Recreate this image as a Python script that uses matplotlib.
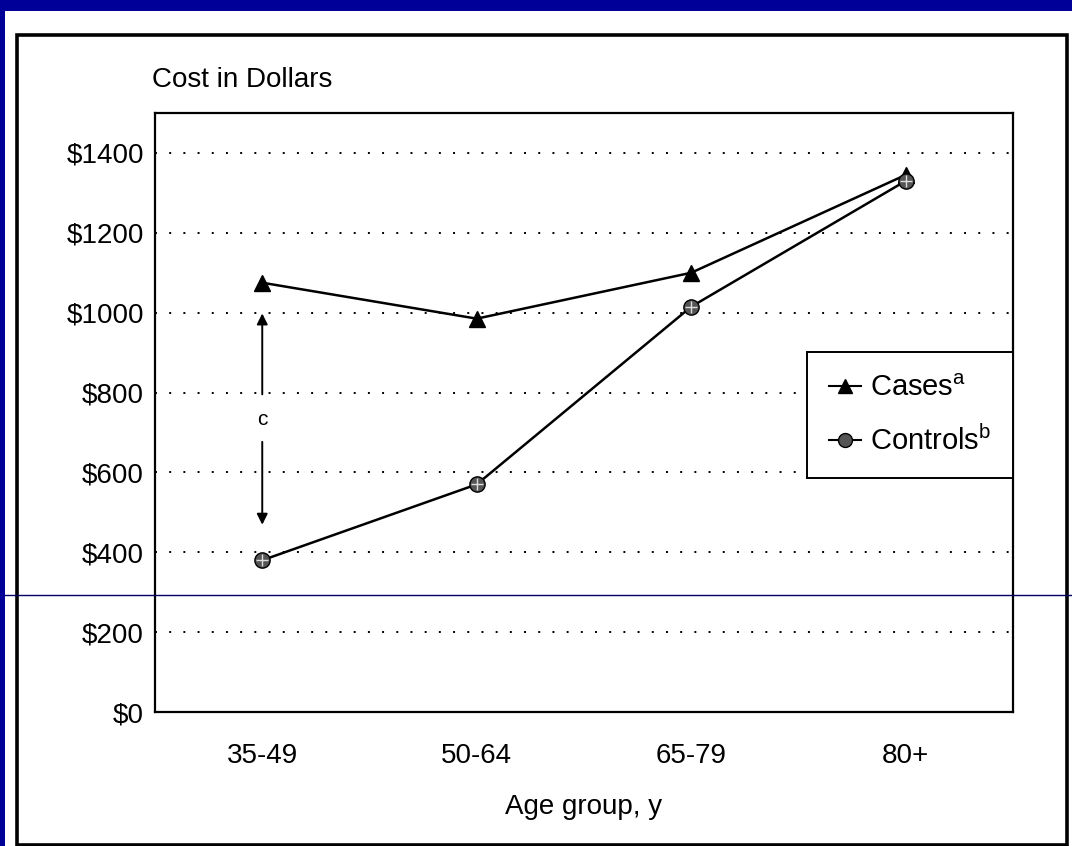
import numpy as np
import matplotlib
matplotlib.use("Agg")
import matplotlib.pyplot as plt
from matplotlib.patches import Rectangle
from matplotlib.lines import Line2D

plt.rcParams["font.family"] = ["Liberation Sans", "DejaVu Sans"]
plt.rcParams["mathtext.fontset"] = "custom"
plt.rcParams["mathtext.rm"] = "Liberation Sans"

age_groups = ["35-49", "50-64", "65-79", "80+"]
cases = [1075, 985, 1100, 1345]
controls = [380, 570, 1015, 1330]
y_ticks = [0, 200, 400, 600, 800, 1000, 1200, 1400]
gap_top = 1005
gap_bottom = 462

SLIDE_BLUE = "#000099"
FS = 20

fig = plt.figure(figsize=(10.72, 8.46), dpi=100)
fig.patch.set_facecolor("white")

# slide background strips and the outer box of the scanned figure
fig.add_artist(Rectangle((0, 1 - 11 / 846), 1, 11 / 846, transform=fig.transFigure,
                         facecolor=SLIDE_BLUE, edgecolor="none", zorder=0))
fig.add_artist(Rectangle((0, 0), 5 / 1072, 1, transform=fig.transFigure,
                         facecolor=SLIDE_BLUE, edgecolor="none", zorder=0))
fig.add_artist(Rectangle((17 / 1072, 1 / 846), (1067 - 17) / 1072, (845 - 35) / 846,
                         transform=fig.transFigure, facecolor="none",
                         edgecolor="black", linewidth=2.6, zorder=1))
fig.add_artist(Line2D([5 / 1072, 1], [1 - 595 / 846] * 2, transform=fig.transFigure,
                      color="#000066", linewidth=1.0, zorder=5))

ax = fig.add_axes([155 / 1072, 1 - 712 / 846, (1013 - 155) / 1072, (712 - 113) / 846])
x = np.arange(len(age_groups)) + 0.5

ax.plot(x, cases, color="black", linewidth=1.8, marker="^", markersize=11,
        markerfacecolor="black", markeredgecolor="black", zorder=4)
ax.plot(x, controls, color="black", linewidth=1.8, marker="o", markersize=11,
        markerfacecolor="#555555", markeredgecolor="black", zorder=4)
ax.plot(x, controls, linestyle="none", marker="+", markersize=8,
        markeredgecolor="#dddddd", markeredgewidth=1.0, zorder=5)

# double arrow marking the gap at the youngest age group
arrow = dict(arrowstyle="-|>", color="black", lw=1.4, mutation_scale=16)
mid = (gap_top + gap_bottom) / 2
ax.annotate("", xy=(x[0], gap_top), xytext=(x[0], mid + 55), arrowprops=arrow)
ax.annotate("", xy=(x[0], gap_bottom), xytext=(x[0], mid - 50), arrowprops=arrow)
ax.text(x[0], mid, "c", ha="center", va="center", fontsize=15)

ax.set_xlim(0, len(age_groups))
ax.set_ylim(0, 1500)
ax.set_yticks(y_ticks)
ax.set_yticklabels([f"${v}" for v in y_ticks], fontsize=FS)
ax.set_xticks(x)
ax.set_xticklabels(age_groups, fontsize=FS)
ax.tick_params(axis="y", length=0, pad=8)
ax.tick_params(axis="x", length=0, pad=22)
for v in y_ticks[1:]:
    ax.axhline(v, color="black", linewidth=1.4, linestyle=(0, (1, 6.3)), zorder=1)
for s in ax.spines.values():
    s.set_linewidth(1.6)
    s.set_color("black")

ax.set_xlabel("Age group, y", fontsize=FS, labelpad=18)
fig.text(152 / 1072, 1 - 80 / 846, "Cost in Dollars", fontsize=FS, ha="left", va="center")

handles = [
    Line2D([], [], color="black", linewidth=1.5, marker="^", markersize=10,
           markerfacecolor="black"),
    Line2D([], [], color="black", linewidth=1.5, marker="o", markersize=10,
           markerfacecolor="#555555"),
]
leg = ax.legend(handles, [r"Cases$^{\mathrm{a}}$", r"Controls$^{\mathrm{b}}$"],
                loc="center right", bbox_to_anchor=(1.0, 1 - (415 - 113) / (712 - 113)),
                fontsize=21, frameon=True, fancybox=False, framealpha=1,
                edgecolor="black", handlelength=1.1, handletextpad=0.3,
                borderaxespad=0, borderpad=0.75, labelspacing=0.8)
leg.get_frame().set_linewidth(1.4)

fig.savefig("out.png", dpi=100)
